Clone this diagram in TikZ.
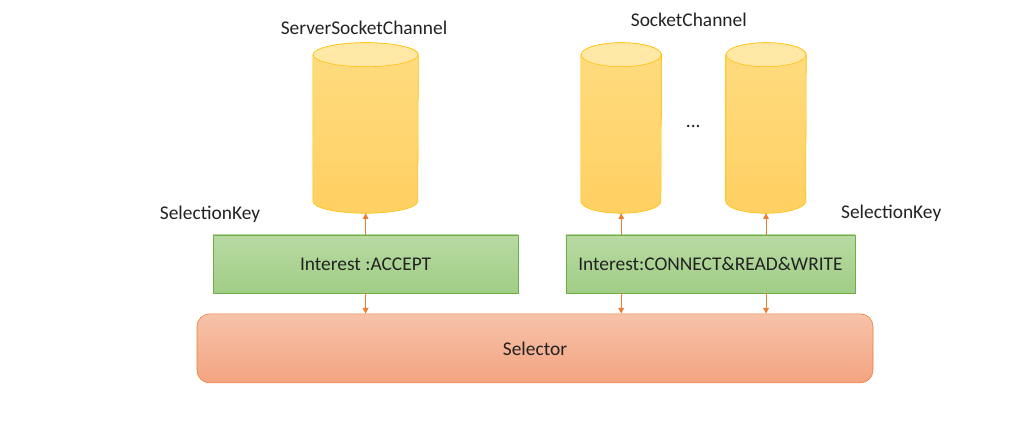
\documentclass[tikz,border=0pt]{standalone}
\usepackage{fontspec}
\setmainfont{Carlito}
\usetikzlibrary{arrows.meta}

\definecolor{chantop}{RGB}{255,220,128}
\definecolor{chanbot}{RGB}{255,208,98}
\definecolor{chanend}{RGB}{255,232,166}
\definecolor{chanline}{RGB}{255,192,0}
\definecolor{keytop}{RGB}{184,218,162}
\definecolor{keybot}{RGB}{160,205,134}
\definecolor{keyline}{RGB}{112,173,71}
\definecolor{seltop}{RGB}{246,194,170}
\definecolor{selbot}{RGB}{244,164,128}
\definecolor{selline}{RGB}{237,125,49}
\definecolor{txt}{RGB}{34,34,34}

\tikzset{
    channel/.style={rectangle, minimum height=4.25cm, inner sep=0pt},
    keybox/.style={rectangle, draw=keyline, top color=keytop, bottom color=keybot,
        minimum height=1.45cm, text=txt},
    link/.style={draw=selline, semithick, -{Triangle[length=4pt,width=4pt]}},
    lbl/.style={text=txt}
}

\begin{document}
\begin{tikzpicture}[font=\fontsize{13.8}{16}\selectfont]
    % Fix the canvas
    \useasboundingbox (0,0) rectangle (25.7,-10.575);

    % Place the channels
    \node[channel, minimum width=2.625cm] (server) at (9.14,-3.2) {};
    \node[channel, minimum width=2cm] (sock1) at (15.53,-3.2) {};
    \node[channel, minimum width=2cm] (sock2) at (19.15,-3.2) {};

    % Draw each channel as a cylinder
    \foreach \n/\w in {server/1.3125, sock1/1, sock2/1}{
        \draw[chanline, top color=chantop, bottom color=chanbot]
            ([yshift=-0.3cm]\n.north west) -- ([yshift=0.3cm]\n.south west)
            arc[start angle=180, end angle=360, x radius=\w, y radius=0.3]
            -- ([yshift=-0.3cm]\n.north east)
            arc[start angle=0, end angle=180, x radius=\w, y radius=0.3] -- cycle;
        \draw[chanline, fill=chanend] ([yshift=-0.3cm]\n.north) ellipse[x radius=\w, y radius=0.3];
    }

    % Channel labels
    \node[lbl] (servername) at (9.1,-0.7) {ServerSocketChannel};
    \node[lbl] (sockname) at (17.22,-0.5) {SocketChannel};
    \node[lbl] (dots) at (17.33,-3.15) {...};

    % Draw the selection keys
    \node[keybox, minimum width=7.625cm] (acceptkey) at (9.14,-6.6) {Interest :ACCEPT};
    \node[keybox, minimum width=7.225cm] (rwkey) at (17.76,-6.6) {Interest:CONNECT\&READ\&WRITE};
    \node[lbl] (keyleft) at (5.25,-5.35) {SelectionKey};
    \node[lbl] (keyright) at (22.28,-5.33) {SelectionKey};

    % Draw the selector
    \node[rectangle, rounded corners=9pt, draw=selline, top color=seltop, bottom color=selbot,
        minimum width=16.9cm, minimum height=1.725cm, text=txt] (selector) at (13.375,-8.71) {Selector};

    % Arrows up to the channels
    \draw[link] (acceptkey.north) -- (server.south);
    \draw[link] (sock1.south |- rwkey.north) -- (sock1.south);
    \draw[link] (sock2.south |- rwkey.north) -- (sock2.south);

    % Arrows down to the selector
    \draw[link] (acceptkey.south) -- (acceptkey.south |- selector.north);
    \draw[link] (sock1.south |- rwkey.south) -- (sock1.south |- selector.north);
    \draw[link] (sock2.south |- rwkey.south) -- (sock2.south |- selector.north);
\end{tikzpicture}
\end{document}
